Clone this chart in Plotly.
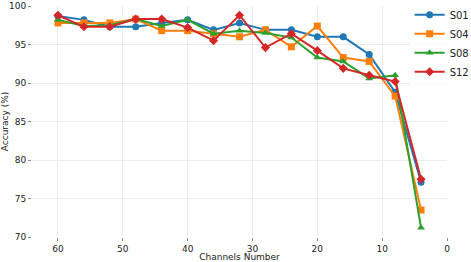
import plotly.graph_objects as go

channels = [60, 56, 52, 48, 44, 40, 36, 32, 28, 24, 20, 16, 12, 8, 4]
s01 = [98.7, 98.2, 97.3, 97.3, 97.8, 98.2, 96.9, 97.8, 96.9, 96.9, 96.0, 96.0, 93.7, 88.8, 77.1]
s04 = [97.8, 97.8, 97.8, 98.3, 96.8, 96.8, 96.4, 96.0, 96.9, 94.7, 97.4, 93.3, 92.8, 88.3, 73.5]
s08 = [98.2, 97.4, 97.5, 98.3, 97.4, 98.2, 96.4, 96.8, 96.5, 95.9, 93.3, 92.8, 90.6, 91.0, 71.2]
s12 = [98.8, 97.3, 97.3, 98.3, 98.3, 97.2, 95.5, 98.8, 94.6, 96.4, 94.2, 91.9, 91.0, 90.2, 77.5]

series = [
    ("S01", s01, "#1f77b4", "circle"),
    ("S04", s04, "#ff7f0e", "square"),
    ("S08", s08, "#2ca02c", "triangle-up"),
    ("S12", s12, "#d62728", "diamond"),
]

fig = go.Figure()
for name, vals, color, sym in series:
    fig.add_trace(go.Scatter(
        x=channels, y=vals, name=name, mode="lines+markers",
        line=dict(color=color, width=2),
        marker=dict(symbol=sym, size=7, color=color),
    ))

font = "DejaVu Sans, sans-serif"
fig.update_layout(
    width=471, height=262,
    margin=dict(l=32, r=24, t=6, b=25, autoexpand=False),
    paper_bgcolor="white", plot_bgcolor="white",
    font=dict(family=font, size=9, color="#222"),
    showlegend=True,
    legend=dict(x=0.91, y=1.025, xanchor="left", yanchor="top",
                xref="paper", yref="paper",
                font=dict(size=10, color="#222"),
                bgcolor="rgba(255,255,255,0.8)",
                tracegroupgap=0, itemwidth=30,
                borderwidth=0),
    xaxis=dict(
        range=[64, 0], tickvals=[60, 50, 40, 30, 20, 10, 0],
        showgrid=True, gridcolor="#ececec", gridwidth=1,
        zeroline=False, showline=False,
        ticks="outside", ticklen=3, tickcolor="#888",
        title=dict(text="Channels Number", standoff=0, font=dict(size=9)),
    ),
    yaxis=dict(
        range=[70, 100], tickvals=[70, 75, 80, 85, 90, 95, 100],
        showgrid=True, gridcolor="#ececec", gridwidth=1,
        zeroline=False, showline=False,
        ticks="outside", ticklen=3, tickcolor="#888",
        title=dict(text="Accuracy (%)", standoff=3, font=dict(size=9)),
    ),
)

fig.write_html("out.html", config={"displayModeBar": False},
               post_script="document.body.style.margin='0';")
